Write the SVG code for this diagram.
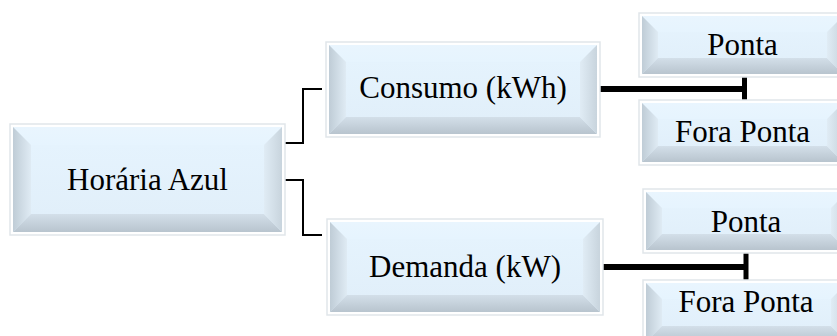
<svg xmlns="http://www.w3.org/2000/svg" width="837" height="336" viewBox="0 0 837 336">
<defs>
<linearGradient id="gFace" x1="0" y1="0" x2="0" y2="1"><stop offset="0" stop-color="#e6f4fe"/><stop offset="1" stop-color="#e0eef9"/></linearGradient>
<linearGradient id="gTop" x1="0" y1="0" x2="0" y2="1"><stop offset="0" stop-color="#e9f5fe"/><stop offset="1" stop-color="#e6f4fe"/></linearGradient>
<linearGradient id="gLeft" x1="0" y1="0" x2="1" y2="0"><stop offset="0" stop-color="#bfccd6"/><stop offset="1" stop-color="#dfebf4"/></linearGradient>
<linearGradient id="gBottom" x1="0" y1="0" x2="0" y2="1"><stop offset="0" stop-color="#d3dfe9"/><stop offset="1" stop-color="#b8c4ce"/></linearGradient>
<linearGradient id="gRight" x1="0" y1="0" x2="1" y2="0"><stop offset="0" stop-color="#e0ecf5"/><stop offset="1" stop-color="#c8d4dd"/></linearGradient>
</defs>
<style>
.frame{fill:#ffffff;stroke:#e1e6ea;stroke-width:1.5}
.face{fill:url(#gFace)}
.bt{fill:url(#gTop)}
.bl{fill:url(#gLeft)}
.bb{fill:url(#gBottom)}
.br{fill:url(#gRight)}
.lbl{font-family:"Liberation Serif","Times New Roman",serif;font-size:31px;fill:#000;text-anchor:middle}
.thin{fill:none;stroke:#000;stroke-width:2}
.thick{fill:none;stroke:#000;stroke-width:6}
.tick{fill:none;stroke:#000;stroke-width:5}
</style>
<g id="connectors">
<path class="thin" d="M285,143 H303 V89 H322"/>
<path class="thin" d="M285,180 H303 V235 H322"/>
<path class="thick" d="M600,89 H744"/>
<path class="tick" d="M744.5,77 V102"/>
<path class="thick" d="M603,267 H746"/>
<path class="tick" d="M746,253 V280"/>
</g>
<g id="node-horaria-azul">
<rect class="frame" x="10" y="124" width="275" height="111"/>
<rect class="face" x="13" y="127" width="269" height="105"/>
<polygon class="bt" points="13,127 282,127 264,145 31,145"/>
<polygon class="bl" points="13,127 31,145 31,214 13,232"/>
<polygon class="bb" points="13,232 31,214 264,214 282,232"/>
<polygon class="br" points="282,127 282,232 264,214 264,145"/>
<text class="lbl" x="147.5" y="190">Horária Azul</text>
</g>
<g id="node-consumo">
<rect class="frame" x="326" y="42" width="274" height="95"/>
<rect class="face" x="329" y="45" width="268" height="89"/>
<polygon class="bt" points="329,45 597,45 580,62 346,62"/>
<polygon class="bl" points="329,45 346,62 346,117 329,134"/>
<polygon class="bb" points="329,134 346,117 580,117 597,134"/>
<polygon class="br" points="597,45 597,134 580,117 580,62"/>
<text class="lbl" x="463" y="98">Consumo (kWh)</text>
</g>
<g id="node-demanda">
<rect class="frame" x="327" y="219" width="276" height="96"/>
<rect class="face" x="330" y="222" width="270" height="90"/>
<polygon class="bt" points="330,222 600,222 583,239 347,239"/>
<polygon class="bl" points="330,222 347,239 347,295 330,312"/>
<polygon class="bb" points="330,312 347,295 583,295 600,312"/>
<polygon class="br" points="600,222 600,312 583,295 583,239"/>
<text class="lbl" x="465" y="277">Demanda (kW)</text>
</g>
<g id="node-ponta-1">
<rect class="frame" x="639" y="13" width="207" height="64"/>
<rect class="face" x="642" y="16" width="201" height="58"/>
<polygon class="bt" points="642,16 843,16 827,32 658,32"/>
<polygon class="bl" points="642,16 658,32 658,58 642,74"/>
<polygon class="bb" points="642,74 658,58 827,58 843,74"/>
<polygon class="br" points="843,16 843,74 827,58 827,32"/>
<text class="lbl" x="742.5" y="55">Ponta</text>
</g>
<g id="node-fora-ponta-1">
<rect class="frame" x="639" y="100" width="207" height="65"/>
<rect class="face" x="642" y="103" width="201" height="59"/>
<polygon class="bt" points="642,103 843,103 827,119 658,119"/>
<polygon class="bl" points="642,103 658,119 658,146 642,162"/>
<polygon class="bb" points="642,162 658,146 827,146 843,162"/>
<polygon class="br" points="843,103 843,162 827,146 827,119"/>
<text class="lbl" x="742.5" y="142">Fora Ponta</text>
</g>
<g id="node-ponta-2">
<rect class="frame" x="643" y="189" width="207" height="64"/>
<rect class="face" x="646" y="192" width="201" height="58"/>
<polygon class="bt" points="646,192 847,192 831,208 662,208"/>
<polygon class="bl" points="646,192 662,208 662,234 646,250"/>
<polygon class="bb" points="646,250 662,234 831,234 847,250"/>
<polygon class="br" points="847,192 847,250 831,234 831,208"/>
<text class="lbl" x="746" y="232">Ponta</text>
</g>
<g id="node-fora-ponta-2">
<rect class="frame" x="643" y="280" width="207" height="65"/>
<rect class="face" x="646" y="283" width="201" height="59"/>
<polygon class="bt" points="646,283 847,283 831,299 662,299"/>
<polygon class="bl" points="646,283 662,299 662,326 646,342"/>
<polygon class="bb" points="646,342 662,326 831,326 847,342"/>
<polygon class="br" points="847,283 847,342 831,326 831,299"/>
<text class="lbl" x="746" y="312">Fora Ponta</text>
</g>
</svg>
